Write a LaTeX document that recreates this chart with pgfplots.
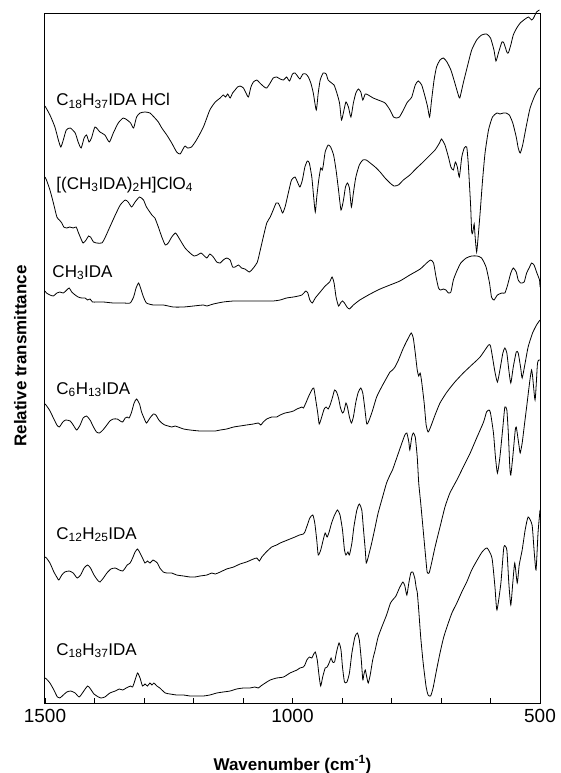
\documentclass[border=0pt]{standalone}
\usepackage{pgfplots}
\pgfplotsset{compat=1.18}
\usepackage{fontspec}
\setmainfont{Liberation Sans}
\begin{document}
\begin{tikzpicture}[x=1pt,y=1pt,spec/.style={black, solid, line width=0.8pt, mark=none, smooth, tension=0.35}]
\begin{axis}[
  at={(45pt,70pt)}, anchor=south west,
  scale only axis, width=495pt, height=689pt,
  xmin=500, xmax=1500, x dir=reverse,
  ymin=14, ymax=703, y dir=reverse,
  xtick={500,600,...,1500},
  xticklabels={500,,,,,1000,,,,,1500},
  ytick=\empty,
  xtick pos=left,
  tick align=inside,
  major tick length=5pt,
  tick style={black, line width=0.7pt},
  axis line style={line width=1pt, black},
  xticklabel style={font=\fontsize{19}{19}\selectfont, yshift=-3pt},
  clip=false,
]
\draw[black, line width=1pt] (axis cs:1500,14) -- (axis cs:500,14) -- (axis cs:500,703);
% C18H37IDA HCl
\addplot[spec] coordinates {
(1500,106)(1490,115)(1480,127)(1473,140)(1468,147)(1463,140)(1457,130)(1449,128)(1439,133)(1433,142)
(1427,148)(1421,138)(1416,135)(1411,142)(1406,138)(1399,127)(1389,132)(1379,135)(1370,142)(1362,133)
(1352,123)(1342,118)(1334,120)(1327,123)(1321,128)(1315,117)(1308,113)(1298,112)(1288,113)(1278,118)
(1271,122)(1264,128)(1254,135)(1244,143)(1234,152)(1227,154)(1220,148)(1217,146)(1212,148)(1204,147)
(1194,140)(1180,127)(1167,110)(1156,102)(1146,98)(1140,95)(1135,97)(1131,94)(1126,98)(1121,93)
(1116,90)(1111,87)(1106,86)(1099,88)(1094,93)(1089,97)(1084,87)(1079,82)(1072,80)(1066,83)
(1057,87)(1052,88)(1045,83)(1039,78)(1032,77)(1025,79)(1018,80)(1012,77)(1006,81)(1000,74)
(995,73)(990,76)(985,79)(979,74)(973,74)(968,77)(963,83)(958,93)(952,110)(948,93)
(944,80)(938,73)(932,74)(928,80)(921,83)(916,85)(911,92)(905,103)(901,120)(896,110)
(892,102)(887,107)(882,117)(877,103)(872,93)(867,89)(862,92)(858,100)(853,94)(847,95)
(837,98)(827,100)(813,103)(803,110)(796,117)(791,118)(784,117)(776,110)(769,103)(764,100)
(759,97)(752,85)(746,81)(739,85)(732,97)(727,107)(723,117)(719,100)(714,80)(709,67)
(702,60)(695,58)(688,62)(680,70)(672,83)(665,95)(662,98)(655,83)(647,67)(638,50)
(628,40)(618,35)(608,34)(600,38)(593,50)(589,61)(584,53)(577,42)(573,43)(567,52)
(564,53)(559,45)(554,35)(547,28)(540,23)(530,19)(523,17)(517,20)(513,18)(507,12)(501,10)
};
% [(CH3IDA)2H]ClO4
\addplot[spec] coordinates {
(1500,177)(1497,180)(1490,190)(1483,203)(1476,217)(1471,220)(1466,223)(1462,227)(1456,228)(1450,227)
(1443,228)(1437,227)(1433,232)(1428,238)(1423,243)(1417,240)(1412,236)(1408,237)(1402,242)(1396,243)
(1385,243)(1379,238)(1369,227)(1358,215)(1348,205)(1338,200)(1332,202)(1325,207)(1318,202)(1309,197)
(1301,200)(1295,207)(1284,215)(1278,218)(1271,227)(1264,237)(1257,245)(1251,243)(1244,237)(1237,233)
(1233,235)(1227,240)(1217,248)(1207,253)(1199,256)(1192,255)(1185,253)(1180,255)(1173,258)(1167,254)
(1160,257)(1153,262)(1146,263)(1140,260)(1133,258)(1126,260)(1121,267)(1116,267)(1109,265)(1103,268)
(1096,269)(1087,272)(1079,268)(1071,262)(1066,252)(1059,237)(1052,223)(1045,217)(1039,210)(1033,203)
(1029,203)(1024,208)(1020,213)(1015,207)(1008,192)(1002,180)(995,177)(990,182)(985,187)(980,180)
(975,167)(970,161)(966,163)(961,177)(958,193)(954,212)(951,197)(947,180)(943,168)(940,170)
(938,166)(934,152)(928,145)(923,147)(917,155)(912,170)(907,190)(902,210)(897,200)(893,187)
(889,183)(885,188)(881,207)(877,193)(872,177)(865,165)(858,160)(851,160)(843,163)(833,167)
(823,172)(813,178)(803,183)(795,186)(786,185)(776,180)(763,175)(749,168)(736,162)(722,155)
(712,150)(703,143)(699,139)(692,145)(685,157)(680,167)(675,170)(671,162)(667,167)(663,177)
(658,157)(653,148)(648,147)(645,163)(643,180)(640,207)(638,232)(636,233)(633,224)(631,237)
(628,252)(625,237)(621,213)(616,180)(611,153)(604,130)(596,117)(587,113)(581,114)(574,113)
(569,113)(562,115)(555,123)(548,137)(544,148)(540,153)(535,145)(528,127)(520,108)(510,95)(503,89)(500,88)
};
% CH3IDA
\addplot[spec] coordinates {
(1500,291)(1497,293)(1490,295)(1483,296)(1476,293)(1470,292)(1463,293)(1456,290)(1451,288)(1446,292)
(1439,295)(1433,297)(1426,298)(1419,298)(1414,300)(1409,299)(1404,302)(1396,302)(1382,302)(1362,303)
(1342,303)(1328,303)(1321,297)(1316,288)(1311,283)(1307,288)(1301,297)(1295,303)(1281,305)(1261,305)
(1241,307)(1220,307)(1200,306)(1180,305)(1173,306)(1160,304)(1140,302)(1119,301)(1099,301)(1079,301)
(1059,301)(1039,301)(1025,300)(1012,298)(998,297)(988,296)(981,295)(977,293)(973,291)(969,293)
(965,300)(960,303)(954,298)(944,292)(934,286)(925,282)(920,277)(916,283)(912,297)(907,306)
(903,303)(899,301)(895,303)(890,307)(885,309)(877,305)(864,300)(843,294)(823,289)(803,285)
(783,281)(763,275)(742,269)(729,263)(721,260)(715,263)(710,277)(705,288)(701,290)(695,289)
(690,290)(685,293)(680,292)(675,280)(668,271)(660,263)(649,258)(638,256)(627,256)(618,258)
(609,267)(602,283)(598,297)(593,300)(586,295)(577,293)(571,293)(566,286)(559,273)(554,268)
(548,272)(544,280)(539,283)(532,282)(527,273)(521,267)(517,263)(512,265)(507,272)(501,280)(500,287)
};
% C6H13IDA
\addplot[spec] coordinates {
(1500,404)(1498,405)(1491,410)(1483,418)(1476,425)(1471,427)(1464,422)(1458,420)(1449,421)(1443,425)
(1436,430)(1429,425)(1423,418)(1416,416)(1409,420)(1402,427)(1396,432)(1390,433)(1383,430)(1375,425)
(1369,421)(1362,419)(1354,419)(1348,421)(1343,422)(1338,418)(1334,417)(1330,418)(1325,412)(1320,403)
(1315,399)(1309,404)(1305,412)(1300,418)(1295,423)(1288,418)(1281,414)(1276,415)(1270,420)(1264,423)
(1258,425)(1251,426)(1244,427)(1237,426)(1231,427)(1220,429)(1207,430)(1187,431)(1167,431)(1156,431)
(1146,430)(1133,429)(1119,427)(1106,426)(1093,425)(1079,424)(1069,423)(1064,425)(1059,422)(1052,419)
(1042,417)(1032,417)(1025,415)(1015,413)(1005,412)(998,411)(991,409)(986,408)(981,407)(978,408)
(973,403)(968,397)(961,390)(957,388)(953,400)(949,413)(946,424)(941,417)(936,409)(932,407)
(928,409)(924,405)(919,397)(915,390)(911,392)(907,398)(903,408)(899,413)(896,411)(892,403)
(889,407)(885,417)(881,423)(877,417)(872,402)(867,392)(862,388)(858,393)(854,408)(850,424)
(845,420)(838,410)(830,397)(820,387)(810,378)(803,372)(798,370)(793,367)(786,360)(776,348)
(766,338)(760,333)(756,338)(752,353)(748,370)(745,376)(742,373)(739,382)(734,403)(730,425)
(726,432)(721,427)(712,415)(702,403)(688,392)(672,382)(655,373)(638,365)(621,357)(604,345)
(600,346)(596,357)(591,372)(586,382)(581,370)(575,353)(571,348)(567,353)(563,370)(559,383)
(554,367)(548,352)(544,353)(539,368)(536,378)(530,363)(524,347)(515,333)(507,325)(500,320)
};
% C12H25IDA
\addplot[spec] coordinates {
(1500,557)(1497,558)(1490,563)(1482,572)(1475,578)(1472,580)(1466,575)(1460,572)(1451,571)(1443,573)
(1435,578)(1428,575)(1421,568)(1414,565)(1408,568)(1401,575)(1394,580)(1389,582)(1382,578)(1375,573)
(1367,569)(1358,568)(1350,570)(1343,571)(1338,568)(1334,565)(1328,563)(1323,558)(1318,552)(1313,549)
(1308,553)(1303,558)(1298,563)(1293,561)(1288,563)(1282,560)(1278,561)(1273,563)(1268,568)(1261,572)
(1254,573)(1244,573)(1234,575)(1220,576)(1207,577)(1197,577)(1187,576)(1173,575)(1163,573)(1156,574)
(1146,572)(1133,569)(1119,567)(1106,564)(1093,562)(1079,559)(1072,558)(1067,561)(1062,557)(1053,552)
(1042,547)(1032,545)(1025,543)(1015,541)(1005,539)(995,537)(986,535)(978,534)(975,532)(970,525)
(965,518)(959,515)(955,523)(951,540)(948,555)(943,550)(938,540)(934,533)(930,537)(926,532)
(921,523)(915,515)(909,510)(904,515)(899,530)(895,550)(892,555)(888,552)(885,555)(880,543)
(876,527)(870,510)(865,504)(860,510)(857,527)(853,550)(851,563)(847,557)(840,543)(833,527)
(827,513)(818,497)(810,483)(803,475)(798,470)(793,463)(786,453)(779,443)(773,435)(769,433)
(765,442)(763,450)(759,437)(756,433)(752,437)(748,457)(745,483)(741,503)(736,530)(731,557)
(728,572)(724,573)(719,563)(712,547)(702,527)(692,507)(682,493)(668,480)(655,467)(641,453)
(628,438)(614,422)(608,412)(603,410)(600,413)(594,433)(590,457)(586,473)(581,457)(575,427)
(571,407)(567,410)(564,433)(561,467)(559,475)(555,457)(550,430)(548,427)(546,433)(542,447)
(540,453)(536,443)(532,427)(527,407)(517,370)(510,400)(505,363)(500,360)
};
% C18H37IDA
\addplot[spec] coordinates {
(1500,678)(1497,679)(1490,683)(1482,690)(1475,697)(1470,698)(1463,695)(1456,692)(1448,691)(1439,693)
(1431,697)(1423,692)(1414,686)(1408,689)(1401,694)(1392,697)(1387,698)(1379,697)(1369,693)(1358,691)
(1350,689)(1343,690)(1336,688)(1332,687)(1327,686)(1323,687)(1318,680)(1313,673)(1308,678)(1303,686)
(1298,684)(1293,686)(1288,683)(1284,685)(1280,683)(1274,686)(1268,688)(1257,693)(1247,694)(1234,695)
(1220,695)(1207,696)(1194,696)(1180,696)(1167,695)(1153,693)(1140,692)(1126,691)(1113,689)(1099,688)
(1086,688)(1076,687)(1069,688)(1064,686)(1055,683)(1045,680)(1032,678)(1018,677)(1005,673)(991,670)
(985,668)(978,667)(975,665)(971,660)(966,657)(961,658)(958,655)(954,652)(950,660)(946,677)
(943,686)(939,677)(934,668)(930,667)(926,663)(922,658)(919,662)(915,662)(911,652)(906,643)
(902,650)(899,667)(895,682)(890,682)(885,673)(880,653)(874,637)(869,633)(865,640)(861,660)
(858,680)(856,675)(853,670)(850,677)(847,683)(843,675)(838,660)(833,650)(827,637)(818,625)
(810,615)(802,603)(796,599)(791,596)(784,588)(777,582)(773,586)(769,595)(765,583)(761,573)
(757,572)(753,578)(750,588)(748,592)(745,610)(741,637)(736,663)(730,687)(726,695)(721,696)
(716,688)(709,670)(702,653)(695,638)(688,627)(678,613)(668,603)(658,592)(648,582)(638,570)
(628,561)(617,552)(607,548)(597,558)(591,587)(587,610)(579,583)(573,547)(567,550)(563,583)
(559,605)(555,583)(551,563)(546,583)(542,565)(536,550)(530,530)(524,517)(516,525)(512,550)
(508,570)(504,533)(500,510)
};
\node[anchor=base west, font=\fontsize{17}{17}\selectfont] at (axis cs:1484,106) {C\textsubscript{18}H\textsubscript{37}IDA HCl};
\node[anchor=base west, font=\fontsize{17}{17}\selectfont] at (axis cs:1484,189) {[(CH\textsubscript{3}IDA)\textsubscript{2}H]ClO\textsubscript{4}};
\node[anchor=base west, font=\fontsize{17}{17}\selectfont] at (axis cs:1492,277) {CH\textsubscript{3}IDA};
\node[anchor=base west, font=\fontsize{17}{17}\selectfont] at (axis cs:1484,394) {C\textsubscript{6}H\textsubscript{13}IDA};
\node[anchor=base west, font=\fontsize{17}{17}\selectfont] at (axis cs:1484,539) {C\textsubscript{12}H\textsubscript{25}IDA};
\node[anchor=base west, font=\fontsize{17}{17}\selectfont] at (axis cs:1484,655) {C\textsubscript{18}H\textsubscript{37}IDA};
\node[anchor=base, font=\fontsize{17}{17}\selectfont\bfseries] at (axis cs:1000,770) {Wavenumber (cm\textsuperscript{-1})};
\node[rotate=90, anchor=center, font=\fontsize{17}{17}\selectfont\bfseries] at (axis cs:1550,356) {Relative transmittance};
\end{axis}
\pgfresetboundingbox
\path[use as bounding box] (0,0) rectangle (560,773);
\end{tikzpicture}
\end{document}
